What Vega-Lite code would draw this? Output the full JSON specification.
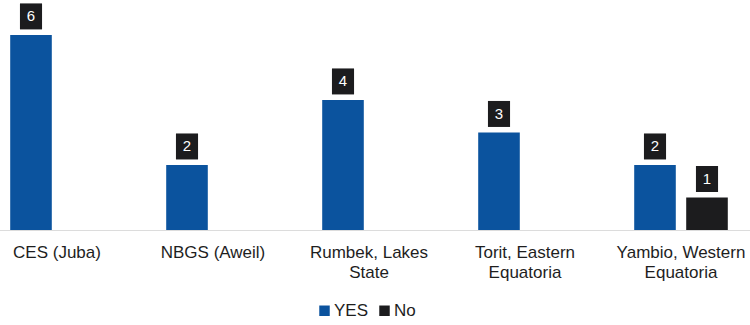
{
  "$schema": "https://vega.github.io/schema/vega-lite/v6.json",
  "autosize": {"type": "none"},
  "width": 750,
  "height": 225,
  "padding": {"left": 0, "top": 5, "right": 0, "bottom": 95},
  "background": "white",
  "config": {"view": {"stroke": null}, "font": "Liberation Sans"},
  "data": {
    "values": [
      {"site": "CES (Juba)", "answer": "YES", "count": 6},
      {"site": "NBGS (Aweil)", "answer": "YES", "count": 2},
      {"site": "Rumbek, Lakes State", "answer": "YES", "count": 4},
      {"site": "Torit, Eastern Equatoria", "answer": "YES", "count": 3},
      {"site": "Yambio, Western Equatoria", "answer": "YES", "count": 2},
      {"site": "Yambio, Western Equatoria", "answer": "No", "count": 1}
    ]
  },
  "encoding": {
    "x": {
      "field": "site",
      "type": "nominal",
      "sort": null,
      "scale": {"range": [-21, 759], "paddingInner": 0, "paddingOuter": 0},
      "axis": {
        "title": null,
        "labelAngle": 0,
        "labelFontSize": 17,
        "labelColor": "#1e1e1e",
        "labelPadding": 14,
        "labelLineHeight": 20,
        "labelBaseline": "top",
        "ticks": false,
        "domainColor": "#dcdcdc",
        "labelExpr": "indexof(datum.value, ',') > 0 ? [substring(datum.value, 0, lastindexof(datum.value, ' ')), substring(datum.value, lastindexof(datum.value, ' ') + 1)] : datum.value"
      }
    },
    "xOffset": {
      "field": "answer",
      "type": "nominal",
      "scale": {"domain": ["YES", "No"], "paddingInner": 0.2, "paddingOuter": 0.6}
    },
    "y": {
      "field": "count",
      "type": "quantitative",
      "scale": {"domain": [0, 6.92], "nice": false},
      "axis": null
    }
  },
  "layer": [
    {
      "mark": {"type": "bar"},
      "encoding": {
        "color": {
          "field": "answer",
          "type": "nominal",
          "scale": {"domain": ["YES", "No"], "range": ["#0b539e", "#1c1c1e"]},
          "legend": {
            "title": null,
            "orient": "none",
            "direction": "horizontal",
            "legendX": 316,
            "legendY": 297,
            "symbolType": "square",
            "symbolSize": 110,
            "symbolStrokeWidth": 0,
            "labelFontSize": 17,
            "labelColor": "#1e1e1e",
            "labelOffset": 1,
            "columnPadding": 7
          }
        }
      }
    },
    {
      "mark": {
        "type": "point",
        "shape": "M-0.85,-1H0.85V1H-0.85Z",
        "filled": true,
        "size": 676,
        "color": "#1c1c1e",
        "opacity": 1,
        "yOffset": -18.5
      }
    },
    {
      "mark": {
        "type": "text",
        "color": "white",
        "fontSize": 15,
        "yOffset": -18.5,
        "baseline": "middle",
        "align": "center"
      },
      "encoding": {"text": {"field": "count", "type": "quantitative"}}
    }
  ]
}
